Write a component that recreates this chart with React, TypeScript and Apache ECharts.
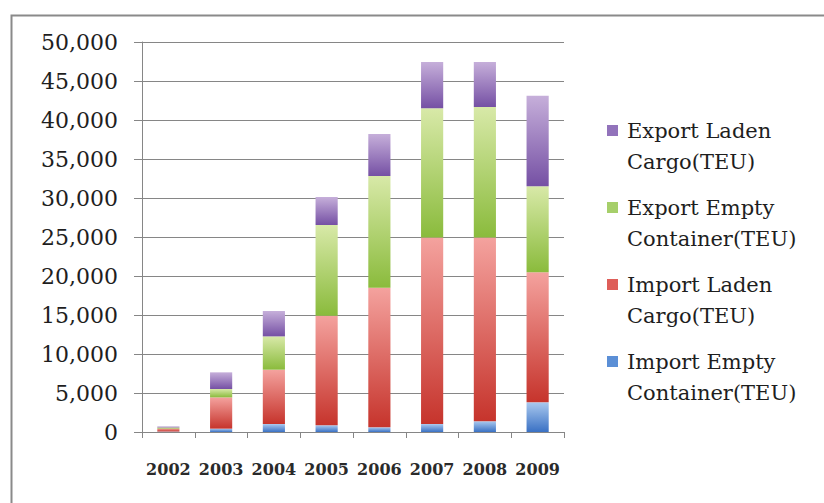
import React, { useEffect, useRef } from "react";
import * as echarts from "echarts";

// Container traffic by year (TEU)
const years = ["2002", "2003", "2004", "2005", "2006", "2007", "2008", "2009"];
const importEmpty = [60, 430, 1020, 860, 600, 1020, 1370, 3800];
const importLaden = [380, 4010, 6970, 14050, 17900, 23900, 23550, 16670];
const exportEmpty = [150, 1070, 4270, 11630, 14320, 16580, 16750, 11030];
const exportLaden = [130, 2140, 3250, 3590, 5390, 5940, 5770, 11620];

const seriesNames = [
  "Import Empty Container(TEU)",
  "Import Laden Cargo(TEU)",
  "Export Empty Container(TEU)",
  "Export Laden Cargo(TEU)",
];
const legendOrder = [seriesNames[3], seriesNames[2], seriesNames[1], seriesNames[0]];

// top / bottom shades of each stacked segment
const shades: [string, string][] = [
  ["#a9c8ee", "#3a71c4"],
  ["#f4a29e", "#c6342c"],
  ["#d8e9a8", "#8abb3c"],
  ["#c6afda", "#7550a4"],
];
const swatches = ["#5b8fd6", "#de5e59", "#a6cf6a", "#9273bb"];

const FONT = "DejaVu Serif";

export default function App() {
  const ref = useRef<HTMLDivElement>(null);

  useEffect(() => {
    if (!ref.current) return;
    const chart = echarts.init(ref.current, undefined, { renderer: "svg" });
    const values = [importEmpty, importLaden, exportEmpty, exportLaden];

    const rich: Record<string, any> = {
      t: { fontFamily: FONT, fontSize: 21, color: "#1e1e1e", lineHeight: 31 },
      gap: { width: 9 },
      pad: { width: 20 },
    };
    swatches.forEach((c, i) => {
      rich["box" + i] = { width: 11, height: 11, backgroundColor: c };
    });

    chart.setOption({
      animation: false,
      backgroundColor: "#ffffff",
      grid: { left: 142, right: 260, top: 42, bottom: 71 },
      legend: {
        data: legendOrder,
        orient: "vertical",
        left: 597,
        top: 115,
        icon: "none",
        itemWidth: 0,
        itemHeight: 0,
        itemGap: 25,
        selectedMode: false,
        formatter: (name: string) => {
          const idx = seriesNames.indexOf(name);
          const cut = name.indexOf(" ", name.indexOf(" ") + 1);
          const first = name.slice(0, cut);
          const second = name.slice(cut + 1);
          return `{box${idx}|}{gap|}{t|${first}}\n{pad|}{t|${second}}`;
        },
        textStyle: { rich },
      },
      xAxis: {
        type: "category",
        data: years,
        axisLine: { lineStyle: { color: "#868686", width: 1 } },
        axisTick: { show: true, length: 6, lineStyle: { color: "#868686" } },
        axisLabel: {
          interval: 0,
          hideOverlap: false,
          fontFamily: FONT,
          fontSize: 16,
          fontWeight: "bold",
          color: "#2a2a2a",
          margin: 29,
        },
      },
      yAxis: {
        type: "value",
        min: 0,
        max: 50000,
        interval: 5000,
        axisLine: { show: true, lineStyle: { color: "#868686", width: 1 } },
        axisTick: { show: true, length: 8, lineStyle: { color: "#868686" } },
        splitLine: { lineStyle: { color: "#868686", width: 1 } },
        axisLabel: {
          fontFamily: FONT,
          fontSize: 22,
          color: "#1e1e1e",
          margin: 24,
          formatter: (v: number) => v.toLocaleString("en-US"),
        },
      },
      series: seriesNames.map((name, i) => ({
        name,
        type: "bar",
        stack: "teu",
        barWidth: "42%",
        data: values[i],
        itemStyle: {
          color: new echarts.graphic.LinearGradient(0, 0, 0, 1, [
            { offset: 0, color: shades[i][0] },
            { offset: 1, color: shades[i][1] },
          ]),
        },
      })),
      graphic: [
        {
          type: "rect",
          left: 9,
          top: 13,
          shape: { x: 0, y: 0, width: 840, height: 520 },
          style: { fill: "none", stroke: "#8a8a8a", lineWidth: 2 },
          silent: true,
        },
      ],
    });

    return () => chart.dispose();
  }, []);

  return (
    <div
      ref={ref}
      style={{ position: "fixed", left: 0, top: 0, width: 824, height: 503 }}
    />
  );
}
